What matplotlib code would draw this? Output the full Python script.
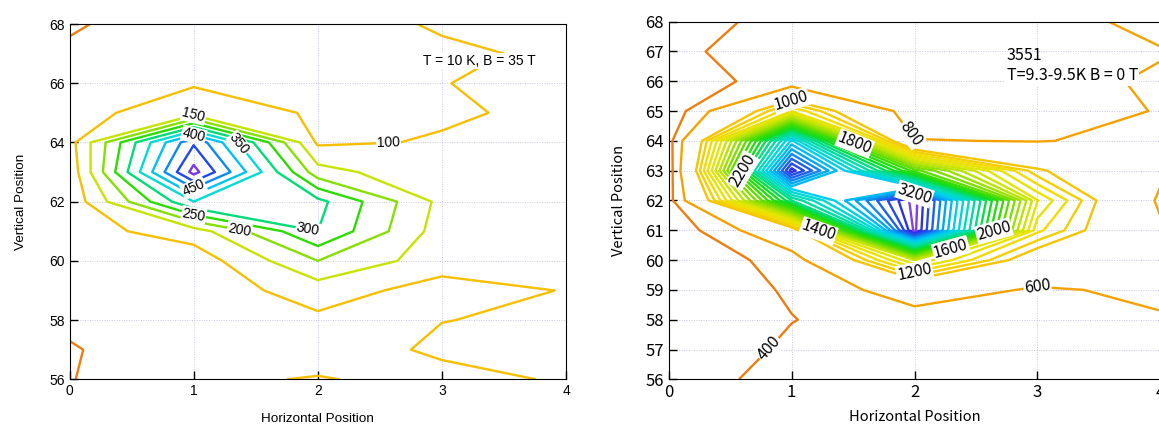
import matplotlib
matplotlib.use("Agg")
import matplotlib.pyplot as plt
import numpy as np
from matplotlib.colors import LinearSegmentedColormap
from matplotlib.path import Path

# grid positions (same for both maps)
x_pos = [0, 1, 2, 3, 4]
y_pos = list(range(56, 69))

# left map : T = 10 K, B = 35 T   (one row per vertical position 56..68)
z_left = [
    [47.7, 94, 102, 90.7, 103],
    [47.9, 67, 85, 105, 106],
    [55, 65, 90, 99.5, 104],
    [58, 70, 123, 80, 102],
    [60, 70, 200, 122, 106],
    [78, 125, 300, 125, 106],
    [63, 350, 315, 135, 108],
    [65, 568, 170, 108, 115],
    [80, 493, 92, 104, 110],
    [88, 120, 96, 94, 110],
    [70, 97, 95, 99.5, 106],
    [57, 85, 93, 97, 103],
    [45, 75, 92, 102, 108],
]
levels_left = [50, 100, 150, 200, 250, 300, 350, 400, 450, 500, 550]
# (label text, contour level it sits on, approximate place)
labels_left = [("150", 150, (1.0, 64.95)), ("400", 400, (1.0, 64.28)),
               ("350", 350, (1.38, 64.0)), ("450", 450, (1.0, 62.45)),
               ("250", 250, (1.0, 61.55)), ("200", 200, (1.37, 61.1)),
               ("300", 300, (1.92, 61.05)), ("100", 100, (2.57, 64.03))]

# right map : 3551, T = 9.3-9.5 K, B = 0 T
z_right = [
    [240, 520, 450, 420, 460],
    [250, 435, 470, 480, 500],
    [250, 395, 494, 520, 580],
    [269, 420, 730, 572, 646],
    [227, 489, 1500, 847, 680],
    [250, 850, 3530, 1230, 640],
    [330, 2400, 3550, 1406, 560],
    [300, 3450, 1950, 1030, 650],
    [325, 2825, 610, 590, 660],
    [255, 1300, 457, 480, 613],
    [339, 450, 470, 500, 640],
    [370, 470, 480, 500, 580],
    [350, 438, 450, 462, 700],
]
levels_right = [400, 600] + list(range(1000, 3600, 100))
labels_right = [("400", 400, (0.8, 57.1)), ("600", 600, (3.0, 59.2)),
                ("800", 600, (1.92, 64.08)), ("1000", 1000, (1.0, 65.32)),
                ("1200", 1200, (2.0, 59.5)), ("1400", 1400, (1.22, 61.0)),
                ("1600", 1600, (2.31, 60.17)), ("1800", 1800, (1.53, 64.08)),
                ("2000", 2000, (2.64, 61.06)), ("2200", 2200, (0.54, 63.02)),
                ("3200", 3200, (2.0, 62.49))]

# rainbow used for the contour lines (low = orange, high = violet)
rainbow_left = [(50, "#ef7d0d"), (100, "#f6c000"), (150, "#c6e400"), (200, "#86df00"),
                (250, "#2cdc00"), (300, "#00dc74"), (350, "#00dcd2"), (400, "#00c4f2"),
                (450, "#0a8af0"), (500, "#1e48ee"), (550, "#7a36e8")]
rainbow_right = [(400, "#ef7d0d"), (600, "#f5a300"), (1000, "#f6c400"),
                 (1200, "#f2dc00"), (1400, "#e2e600"), (1600, "#b8e400"), (1800, "#7ede00"),
                 (2000, "#3cdc00"), (2200, "#10dc20"), (2400, "#00dc80"), (2600, "#00dcc0"),
                 (2800, "#00d0ee"), (3000, "#00a8f2"), (3200, "#1c64ee"), (3400, "#2c30e8"),
                 (3500, "#8040ee")]


def level_colors(levels, nodes):
    lo, hi = nodes[0][0], nodes[-1][0]
    cmap = LinearSegmentedColormap.from_list(
        "rb", [((v - lo) / (hi - lo), c) for v, c in nodes])
    return [cmap((min(max(l, lo), hi) - lo) / (hi - lo)) for l in levels]


def etiquette(ax, cs, texte, lev, xy, size, font):
    """write texte on contour `lev`, at its point closest to xy, on a white box"""
    path = cs.get_paths()[list(cs.levels).index(lev)]
    pts = ax.transData.transform(path.vertices)
    p = ax.transData.transform(xy)
    best = None
    for k in range(1, len(pts)):
        if path.codes is not None and path.codes[k] == Path.MOVETO:
            continue
        a, b = pts[k - 1], pts[k]
        ab = b - a
        n2 = ab @ ab
        if n2 == 0:
            continue
        t = min(max((p - a) @ ab / n2, 0), 1)
        q = a + t * ab
        d = np.hypot(*(q - p))
        if best is None or d < best[0]:
            best = (d, q, ab)
    _, q, ab = best
    ang = np.degrees(np.arctan2(ab[1], ab[0]))
    if ang > 90:
        ang -= 180
    if ang < -90:
        ang += 180
    qx, qy = ax.transData.inverted().transform(q)
    ax.text(qx, qy, texte, fontsize=size, fontfamily=font, rotation=ang,
            rotation_mode="anchor", ha="center", va="center", zorder=5,
            bbox=dict(facecolor="white", edgecolor="none", pad=0.6))


def carte(ax, z, levels, nodes, spots, font, size, tsize, ystep):
    ax.set_xlim(0, 4)
    ax.set_ylim(56, 68)
    X, Y = np.meshgrid(x_pos, y_pos)
    cs = ax.contour(X, Y, np.array(z, dtype=float), levels=levels,
                    colors=level_colors(levels, nodes), linewidths=1.7)
    for texte, lev, xy in spots:
        etiquette(ax, cs, texte, lev, xy, size, font)
    ax.set_xticks(x_pos)
    ax.set_yticks(np.arange(56, 68.5, ystep))
    ax.grid(True, color="#c8c8e4", linestyle=(0, (1, 1.5)), linewidth=0.7)
    ax.set_axisbelow(True)
    ax.tick_params(direction="in", length=6, width=1, labelsize=tsize)
    for lab in ax.get_xticklabels() + ax.get_yticklabels():
        lab.set_fontfamily(font)
    return cs


fig = plt.figure(figsize=(11.59, 4.25), dpi=100)

ax1 = fig.add_axes([0.060, 0.1075, 0.4284, 0.836])
carte(ax1, z_left, levels_left, rainbow_left, labels_left, "Liberation Sans", 10, 10, 2)
ax1.set_xlabel("Horizontal Position", fontsize=9.7, fontfamily="Liberation Sans", labelpad=11)
ax1.set_ylabel("Vertical Position", fontsize=9.7, fontfamily="Liberation Sans", labelpad=16)
ax1.text(2.85, 66.75, "T = 10 K, B = 35 T", fontsize=10, fontfamily="Liberation Sans",
         va="center", zorder=6, bbox=dict(facecolor="white", edgecolor="none", pad=1))

ax2 = fig.add_axes([0.577, 0.1075, 0.4241, 0.8415])
carte(ax2, z_right, levels_right, rainbow_right, labels_right, "Noto Sans CJK JP", 11.5, 12, 1)
ax2.spines["right"].set_visible(False)
ax2.set_xlabel("Horizontal Position", fontsize=10.5, fontfamily="Noto Sans CJK JP", labelpad=6)
ax2.set_ylabel("Vertical Position", fontsize=10.5, fontfamily="Noto Sans CJK JP", labelpad=14)
ax2.text(2.75, 66.88, "3551", fontsize=11.5, fontfamily="Noto Sans CJK JP", va="center")
ax2.text(2.75, 66.18, "T=9.3-9.5K B = 0 T", fontsize=11.5, fontfamily="Noto Sans CJK JP",
         va="center", zorder=6, bbox=dict(facecolor="white", edgecolor="none", pad=1))

fig.savefig("out.png", dpi=100)
